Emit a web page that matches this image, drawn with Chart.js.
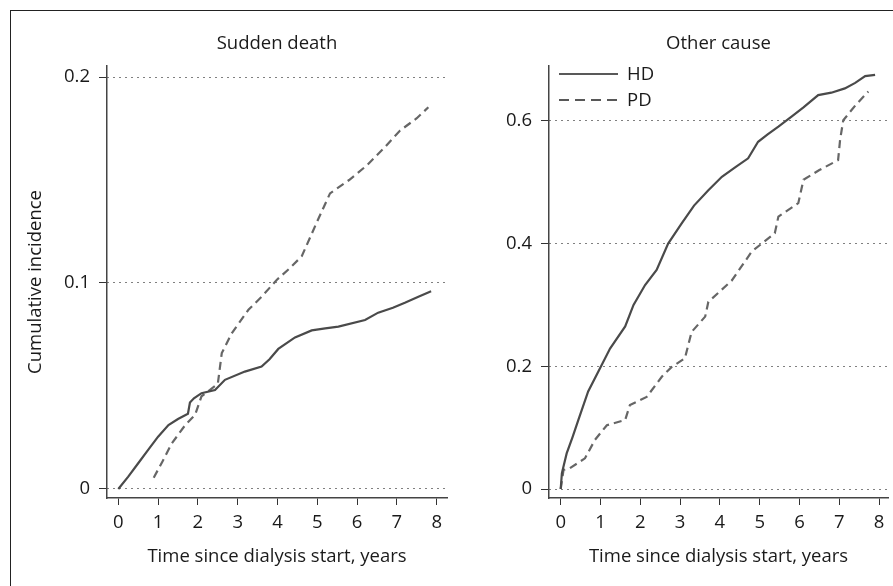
<!DOCTYPE html>
<html>
<head>
<meta charset="utf-8">
<title>Cumulative incidence: sudden death vs other cause</title>
<script src="https://cdn.jsdelivr.net/npm/chart.js@4.4.1/dist/chart.umd.min.js"></script>
<style>
  html, body { margin: 0; padding: 0; background: #fff; }
  #wrap { position: relative; width: 893px; height: 586px; overflow: hidden; }
  #frame { position: absolute; left: 10px; top: 10px; width: 900px; height: 600px;
           border-top: 1px solid #222; border-left: 1px solid #222; }
  canvas { position: absolute; top: 0; }
  #sudden { left: 0; }
  #other { left: 450px; }
</style>
</head>
<body>
<div id="wrap">
  <div id="frame"></div>
  <canvas id="sudden" width="460" height="586"></canvas>
  <canvas id="other" width="443" height="586"></canvas>
</div>
<script>
// --- data ---
const yearTicks = [0, 1, 2, 3, 4, 5, 6, 7, 8];
const suddenTicks = [0, 0.1, 0.2];
const otherTicks = [0, 0.2, 0.4, 0.6];

// Sudden death, HD
const sdHdYears = [0, 0.25, 0.5, 0.75, 1.0, 1.26, 1.5, 1.75, 1.8, 1.9, 2.09, 2.43, 2.68, 3.18, 3.6, 3.8, 4.02, 4.44, 4.86, 5.2, 5.53, 6.2, 6.53, 6.9, 7.2, 7.54, 7.86];
const sdHdInc   = [0, 0.006, 0.0125, 0.019, 0.0254, 0.031, 0.034, 0.0365, 0.042, 0.044, 0.0465, 0.048, 0.053, 0.057, 0.0594, 0.063, 0.068, 0.0736, 0.077, 0.078, 0.0788, 0.082, 0.0856, 0.088, 0.0904, 0.0933, 0.096];
// Sudden death, PD
const sdPdYears = [0.89, 1.1, 1.34, 1.68, 1.93, 2.09, 2.5, 2.6, 2.85, 3.27, 3.6, 3.98, 4.3, 4.61, 5.0, 5.32, 5.8, 6.24, 6.7, 7.08, 7.5, 7.79];
const sdPdInc   = [0.0055, 0.013, 0.022, 0.031, 0.036, 0.045, 0.051, 0.066, 0.0756, 0.087, 0.0933, 0.1015, 0.107, 0.113, 0.130, 0.1435, 0.150, 0.157, 0.166, 0.174, 0.180, 0.1853];

// Other cause, HD
const ocHdYears = [0, 0.03, 0.15, 0.3, 0.44, 0.69, 1.03, 1.24, 1.62, 1.83, 2.12, 2.41, 2.7, 3.04, 3.35, 3.71, 4.05, 4.4, 4.71, 4.96, 5.2, 5.47, 5.8, 6.1, 6.47, 6.8, 7.14, 7.4, 7.65, 7.9];
const ocHdInc   = [0, 0.026, 0.058, 0.085, 0.112, 0.159, 0.202, 0.229, 0.265, 0.30, 0.3325, 0.357, 0.40, 0.433, 0.462, 0.487, 0.509, 0.525, 0.539, 0.566, 0.578, 0.5906, 0.607, 0.622, 0.642, 0.646, 0.653, 0.662, 0.673, 0.675];
// Other cause, PD
const ocPdYears = [0, 0.07, 0.23, 0.61, 0.86, 1.16, 1.62, 1.74, 2.16, 2.54, 2.79, 3.12, 3.29, 3.63, 3.71, 4.3, 4.8, 5.38, 5.47, 5.97, 6.1, 6.5, 6.97, 7.02, 7.1, 7.4, 7.73];
const ocPdInc   = [0, 0.031, 0.034, 0.050, 0.080, 0.104, 0.1125, 0.137, 0.150, 0.183, 0.199, 0.213, 0.256, 0.281, 0.305, 0.34, 0.387, 0.417, 0.444, 0.466, 0.504, 0.52, 0.536, 0.569, 0.601, 0.625, 0.648];

const FONT = "'Open Sans', 'Noto Sans', sans-serif";
const FS = 18.5;
const TEXT = "#1a1a1a";

function pts(xs, ys) {
  return xs.map((x, i) => ({ x: x, y: ys[i] }));
}

// panel title centred over the plot area
const panelTitle = {
  id: "panelTitle",
  afterDraw(chart, args, opts) {
    const ctx = chart.ctx, a = chart.chartArea;
    ctx.save();
    ctx.font = FS + "px " + FONT;
    ctx.fillStyle = TEXT;
    ctx.textAlign = "center";
    ctx.textBaseline = "middle";
    ctx.fillText(opts.text, (a.left + a.right) / 2, opts.y);
    ctx.restore();
  }
};

// small legend in the top-left corner of the plot area
const cornerLegend = {
  id: "cornerLegend",
  afterDraw(chart, args, opts) {
    if (!opts.show) return;
    const ctx = chart.ctx, a = chart.chartArea;
    ctx.save();
    chart.data.datasets.forEach((ds, i) => {
      const y = a.top + 8 + i * 26;
      const x0 = a.left + 10, x1 = x0 + 59;
      ctx.strokeStyle = "#222";
      ctx.lineWidth = 1.5;
      ctx.setLineDash(ds.borderDash ? [10, 6] : []);
      ctx.beginPath();
      ctx.moveTo(x0, y);
      ctx.lineTo(x1, y);
      ctx.stroke();
      ctx.setLineDash([]);
      ctx.font = FS + "px " + FONT;
      ctx.fillStyle = TEXT;
      ctx.textAlign = "left";
      ctx.textBaseline = "middle";
      ctx.fillText(ds.label, x1 + 9, y + 1);
    });
    ctx.restore();
  }
};

function makePanel(id, cfg) {
  return new Chart(document.getElementById(id), {
    type: "line",
    data: {
      datasets: [
        { label: "HD", data: pts(cfg.hdX, cfg.hdY), borderColor: "#4a4a4a", borderWidth: 2.2,
          pointRadius: 0, tension: 0, fill: false },
        { label: "PD", data: pts(cfg.pdX, cfg.pdY), borderColor: "#666", borderWidth: 2.2,
          borderDash: [8, 5], pointRadius: 0, tension: 0, fill: false }
      ]
    },
    options: {
      responsive: false,
      animation: false,
      events: [],
      layout: { padding: { left: 0, top: 66, right: cfg.padRight, bottom: 0 } },
      plugins: {
        legend: { display: false },
        tooltip: { enabled: false },
        panelTitle: { text: cfg.title, y: 44 },
        cornerLegend: { show: cfg.legend }
      },
      scales: {
        x: {
          type: "linear",
          min: cfg.xMin, max: cfg.xMax,
          afterBuildTicks: s => { s.ticks = yearTicks.map(v => ({ value: v })); },
          afterFit: s => { s.height = 88; },
          grid: { drawOnChartArea: false, drawTicks: true, tickLength: 7, color: "#333", lineWidth: 1 },
          border: { color: "#444", width: 1.5 },
          ticks: { color: TEXT, font: { family: FONT, size: FS }, padding: 7, maxRotation: 0 },
          title: { display: true, text: "Time since dialysis start, years", color: TEXT,
                   font: { family: FONT, size: FS }, padding: { top: 0, bottom: 18 } }
        },
        y: {
          type: "linear",
          min: cfg.yMin, max: cfg.yMax,
          afterBuildTicks: s => { s.ticks = cfg.yTicks.map(v => ({ value: v })); },
          afterFit: s => { s.width = cfg.yWidth; },
          grid: { drawOnChartArea: true, drawTicks: true, tickLength: 8, color: "#000", lineWidth: 1,
                  tickColor: "#333", tickBorderDash: [] },
          border: { color: "#444", width: 1.5, dash: [1, 5] },
          ticks: { color: TEXT, font: { family: FONT, size: FS }, padding: 9,
                   callback: v => (v === 0 ? "0" : v.toFixed(1)) },
          title: { display: cfg.yTitle, text: "Cumulative incidence", color: TEXT,
                   font: { family: FONT, size: FS }, padding: { top: 25, bottom: 0 } }
        }
      }
    },
    plugins: [panelTitle, cornerLegend]
  });
}

makePanel("sudden", {
  title: "Sudden death",
  hdX: sdHdYears, hdY: sdHdInc, pdX: sdPdYears, pdY: sdPdInc,
  yTicks: suddenTicks, yMin: -0.00437, yMax: 0.20534,
  xMin: -0.284, xMax: 8.259,
  yWidth: 107, padRight: 13, yTitle: true, legend: false
});

makePanel("other", {
  title: "Other cause",
  hdX: ocHdYears, hdY: ocHdInc, pdX: ocPdYears, pdY: ocPdInc,
  yTicks: otherTicks, yMin: -0.01467, yMax: 0.6895,
  xMin: -0.294, xMax: 8.224,
  yWidth: 99, padRight: 5, yTitle: false, legend: true
});
</script>
</body>
</html>
